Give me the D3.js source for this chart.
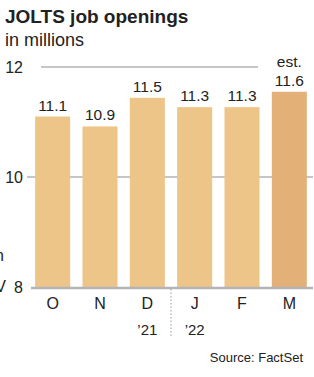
<!DOCTYPE html>
<html>
<head>
<meta charset="utf-8">
<script src="https://cdn.jsdelivr.net/npm/d3@7"></script>
<style>
    body { margin: 0; background: #fff; }
    svg text { font-family: "Liberation Sans", Arial, sans-serif; fill: #222; }
</style>
</head>
<body>
<div id="chart"></div>
<script>
var months = ['O', 'N', 'D', 'J', 'F', 'M'];
var openings = [11.1, 10.92, 11.44, 11.27, 11.27, 11.55];
var valueLabels = ['11.1', '10.9', '11.5', '11.3', '11.3', '11.6'];
var yTicks = [8, 10, 12];
var yearLabels = [{ month: 'D', text: '\u201921' }, { month: 'J', text: '\u201922' }];

var _width = 314,
    _height = 377,
    _barColor = '#edc589',
    _estColor = '#e3b177',
    _gridColor = '#b3b3b8';

var svg = d3.select('#chart').append('svg')
    .attr('width', _width)
    .attr('height', _height);

// TITLE
// ----------------------------------------------------------------
svg.append('text')
    .attr('x', 5).attr('y', 23)
    .style('font-size', '19px')
    .style('font-weight', 'bold')
    .text('JOLTS job openings');

svg.append('text')
    .attr('x', 5).attr('y', 46)
    .style('font-size', '18px')
    .text('in millions');

// SCALES
// ----------------------------------------------------------------
var x = d3.scaleBand()
    .domain(months)
    .range([29, 313])
    .paddingInner(0.26)
    .paddingOuter(0.13);

var y = d3.scaleLinear()
    .domain([8, 12])
    .range([287, 67]);

// GRID
// ----------------------------------------------------------------
var gGrid = svg.append('g');

gGrid.selectAll('line')
    .data(yTicks.filter(function (d) { return d > 8; }))
    .enter().append('line')
    .attr('x1', function (d) { return d === 12 ? 41 : 27; })
    .attr('x2', function (d) { return d === 12 ? 258 : 313; })
    .attr('y1', function (d) { return y(d); })
    .attr('y2', function (d) { return y(d); })
    .attr('stroke', _gridColor)
    .attr('stroke-width', 1.5);

svg.append('g').selectAll('text')
    .data(yTicks)
    .enter().append('text')
    .attr('x', 23)
    .attr('y', function (d) { return y(d) + 6; })
    .attr('text-anchor', 'end')
    .style('font-size', '16px')
    .text(function (d) { return d; });

// BARS
// ----------------------------------------------------------------
svg.append('g').selectAll('rect')
    .data(openings)
    .enter().append('rect')
    .attr('x', function (d, i) { return x(months[i]); })
    .attr('y', function (d) { return y(d); })
    .attr('width', x.bandwidth())
    .attr('height', function (d) { return y(8) - y(d); })
    .attr('fill', function (d, i) { return i === months.length - 1 ? _estColor : _barColor; });

svg.append('g').selectAll('text')
    .data(openings)
    .enter().append('text')
    .attr('x', function (d, i) { return x(months[i]) + x.bandwidth() / 2; })
    .attr('y', function (d) { return y(d) - 6; })
    .attr('text-anchor', 'middle')
    .style('font-size', '15.5px')
    .text(function (d, i) { return valueLabels[i]; });

svg.append('text')
    .attr('x', x('M') + x.bandwidth() / 2)
    .attr('y', y(openings[5]) - 25)
    .attr('text-anchor', 'middle')
    .style('font-size', '15.5px')
    .text('est.');

// BASELINE + X AXIS
// ----------------------------------------------------------------
svg.append('line')
    .attr('x1', 31).attr('x2', 313)
    .attr('y1', y(8) + 1).attr('y2', y(8) + 1)
    .attr('stroke', _gridColor)
    .attr('stroke-width', 2.5);

svg.append('g').selectAll('text')
    .data(months)
    .enter().append('text')
    .attr('x', function (d) { return x(d) + x.bandwidth() / 2; })
    .attr('y', 309)
    .attr('text-anchor', 'middle')
    .style('font-size', '16px')
    .text(function (d) { return d; });

svg.append('g').selectAll('text')
    .data(yearLabels)
    .enter().append('text')
    .attr('x', function (d) { return x(d.month) + x.bandwidth() / 2; })
    .attr('y', 335)
    .attr('text-anchor', 'middle')
    .style('font-size', '15px')
    .text(function (d) { return d.text; });

var sepX = (x('D') + x.bandwidth() + x('J')) / 2;
svg.append('line')
    .attr('x1', sepX).attr('x2', sepX)
    .attr('y1', y(8) + 2).attr('y2', 338)
    .attr('stroke', '#aaa')
    .attr('stroke-width', 1.2)
    .attr('stroke-dasharray', '1.5,2');

// SOURCE + cut-off text from the neighbouring chart
// ----------------------------------------------------------------
svg.append('text')
    .attr('x', 303).attr('y', 362)
    .attr('text-anchor', 'end')
    .style('font-size', '13px')
    .text('Source: FactSet');

svg.append('text')
    .attr('x', 4).attr('y', 261)
    .attr('text-anchor', 'end')
    .style('font-size', '16px')
    .text('in');

svg.append('text')
    .attr('x', 6).attr('y', 292)
    .attr('text-anchor', 'end')
    .style('font-size', '16px')
    .text('V');
</script>
</body>
</html>
